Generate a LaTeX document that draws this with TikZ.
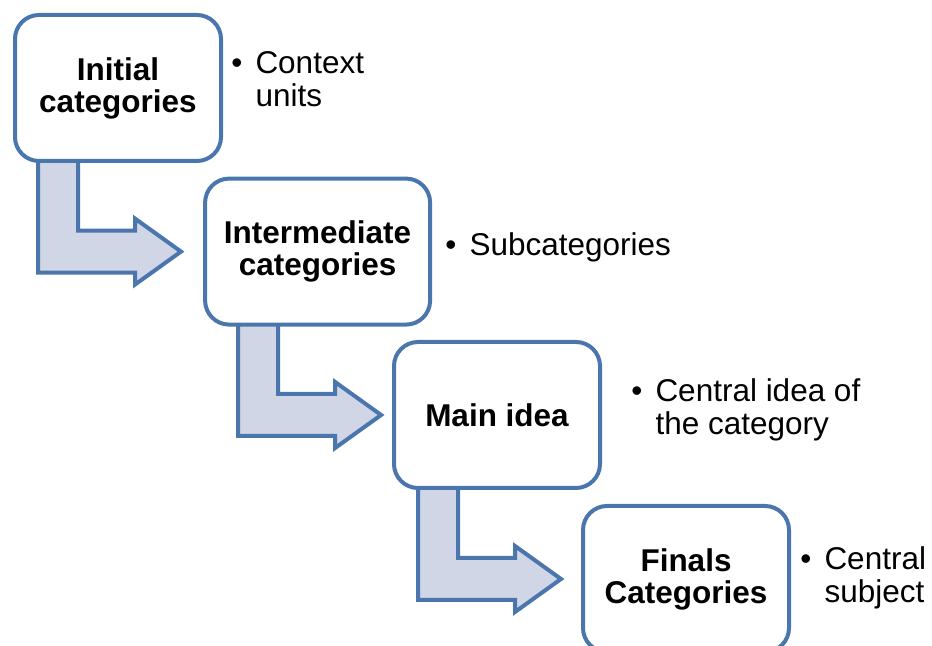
\documentclass[tikz,border=0pt]{standalone}
\usepackage{fontspec}
\setmainfont{Liberation Sans}
\usetikzlibrary{calc,backgrounds}
\definecolor{frameblue}{RGB}{74,118,173}
\definecolor{arrowfill}{RGB}{208,214,229}

\begin{document}
\begin{tikzpicture}[
    box/.style={draw=frameblue, line width=0.1cm, fill=white, rounded corners=0.6cm,
      minimum width=5.15cm, minimum height=3.65cm, align=center, inner sep=0pt,
      font=\fontsize{22.4pt}{22.8pt}\selectfont\bfseries},
    turn/.style={draw=frameblue, line width=0.1cm, fill=arrowfill},
    note/.style={anchor=base west, inner sep=0pt,
      font=\fontsize{22.4pt}{22.8pt}\selectfont}]

  \useasboundingbox (0,0) rectangle (23.3,16.15);

% ---------------- the four stages, stepping down to the right
  \node[box] (init)  at (2.95,13.95) {Initial\\categories};
  \node[box, minimum width=5.625cm] (inter) at (7.94,9.86) {Intermediate\\categories};
  \node[box] (main)  at (12.425,5.775) {Main idea};
  \node[box] (final) at (17.15,1.675) {Finals\\Categories};

% ---------------- what each stage holds
  \node[note] (n1) at (5.775,14.3)
    {\textbullet\hspace{0.33cm}\begin{tabular}[t]{@{}l@{}}Context\\units\end{tabular}};
  \node[note] (n2) at (11.125,9.75) {\textbullet\hspace{0.33cm}Subcategories};
  \node[note] (n3) at (15.775,6.1)
    {\textbullet\hspace{0.33cm}\begin{tabular}[t]{@{}l@{}}Central idea of\\the category\end{tabular}};
  \node[note] (n4) at (20.0,1.9)
    {\textbullet\hspace{0.33cm}\begin{tabular}[t]{@{}l@{}}Central\\subject\end{tabular}};

% ---------------- bent block arrows, tucked under the boxes
  \begin{scope}[on background layer]
  \draw[turn] let \p1 = ($(init.south west)+(0.625,0.3)$), \p2 = (inter.west) in
    (\x1,\y1) |- (\x1+2.425cm,\y2-0.525cm) -- ++(0,-0.3) -- (\x1+3.575cm,\y2)
    -- (\x1+2.425cm,\y2+0.825cm) -- ++(0,-0.3) -| (\x1+1cm,\y1) -- cycle;
  \draw[turn] let \p1 = ($(inter.south west)+(0.875,0.3)$), \p2 = (main.west) in
    (\x1,\y1) |- (\x1+2.425cm,\y2-0.525cm) -- ++(0,-0.3) -- (\x1+3.575cm,\y2)
    -- (\x1+2.425cm,\y2+0.825cm) -- ++(0,-0.3) -| (\x1+1cm,\y1) -- cycle;
  \draw[turn] let \p1 = ($(main.south west)+(0.65,0.3)$), \p2 = (final.west) in
    (\x1,\y1) |- (\x1+2.425cm,\y2-0.525cm) -- ++(0,-0.3) -- (\x1+3.575cm,\y2)
    -- (\x1+2.425cm,\y2+0.825cm) -- ++(0,-0.3) -| (\x1+1cm,\y1) -- cycle;
  \end{scope}
\end{tikzpicture}
\end{document}
